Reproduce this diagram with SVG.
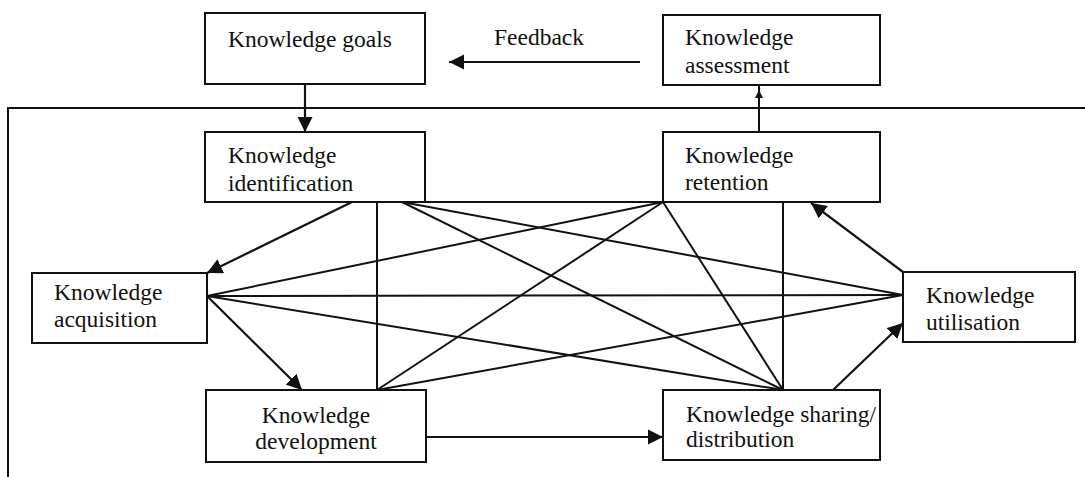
<svg xmlns="http://www.w3.org/2000/svg" width="1085" height="477" viewBox="0 0 1085 477">
  <style>
    .box { fill: #ffffff; stroke: #111111; stroke-width: 2; }
    .lbl { font-family: 'Liberation Serif', 'Times New Roman', 'DejaVu Serif', serif; font-size: 23.5px; fill: #111111; }
    .ln { stroke: #111111; stroke-width: 2; fill: none; }
    .arr { stroke: #111111; stroke-width: 2.2; fill: none; marker-end: url(#head); }
    .frame { stroke: #111111; stroke-width: 2; fill: none; }
  </style>
  <defs>
    <marker id="head" viewBox="0 0 10 10" refX="10" refY="5" markerWidth="7" markerHeight="7" markerUnits="strokeWidth" orient="auto">
      <path d="M0,0 L10,5 L0,10 z" fill="#111111"/>
    </marker>
    <marker id="smallhead" viewBox="0 0 10 10" refX="10" refY="5" markerWidth="4" markerHeight="4" markerUnits="strokeWidth" orient="auto">
      <path d="M0,0 L10,5 L0,10 z" fill="#111111"/>
    </marker>
  </defs>
  <rect width="1085" height="477" fill="#ffffff"/>

  <!-- open frame around the cycle -->
  <path class="frame" d="M1085,108 H8 V477"/>

  <g id="connectors">
    <!-- mesh between the six cycle stages -->
    <line class="ln" x1="377" y1="202" x2="377" y2="390"/>
    <line class="ln" x1="783" y1="202" x2="783" y2="390"/>
    <line class="ln" x1="425" y1="202" x2="663" y2="202"/>
    <line class="ln" x1="402" y1="202" x2="903" y2="295"/>
    <line class="ln" x1="402" y1="202" x2="783" y2="390"/>
    <line class="ln" x1="663" y1="202" x2="207" y2="296"/>
    <line class="ln" x1="663" y1="202" x2="377" y2="390"/>
    <line class="ln" x1="663" y1="202" x2="783" y2="390"/>
    <line class="ln" x1="207" y1="296" x2="903" y2="295"/>
    <line class="ln" x1="207" y1="296" x2="783" y2="390"/>
    <line class="ln" x1="377" y1="390" x2="903" y2="295"/>

    <!-- directed flow -->
    <line class="arr" x1="305" y1="84" x2="305" y2="132"/>
    <line class="arr" x1="640" y1="62" x2="449" y2="62"/>
    <line class="ln" x1="759" y1="132" x2="759" y2="86"/>
    <line class="ln" x1="759" y1="102" x2="759" y2="90" marker-end="url(#smallhead)"/>
    <line class="arr" x1="352" y1="202" x2="207" y2="273"/>
    <line class="arr" x1="207" y1="296" x2="302" y2="390"/>
    <line class="arr" x1="426" y1="437" x2="663" y2="437"/>
    <line class="arr" x1="833" y1="390" x2="903" y2="323"/>
    <line class="arr" x1="903" y1="272" x2="811" y2="203"/>
  </g>

  <text class="lbl" x="494" y="45">Feedback</text>

  <g id="goals">
    <rect class="box" x="205" y="13" width="220" height="71"/>
    <text class="lbl" x="228" y="47">Knowledge goals</text>
  </g>
  <g id="assessment">
    <rect class="box" x="663" y="15" width="217" height="70"/>
    <text class="lbl" x="685" y="45">Knowledge</text>
    <text class="lbl" x="685" y="73">assessment</text>
  </g>
  <g id="identification">
    <rect class="box" x="205" y="132" width="220" height="70"/>
    <text class="lbl" x="228" y="163">Knowledge</text>
    <text class="lbl" x="228" y="191">identification</text>
  </g>
  <g id="retention">
    <rect class="box" x="663" y="132" width="217" height="70"/>
    <text class="lbl" x="685" y="163">Knowledge</text>
    <text class="lbl" x="685" y="190">retention</text>
  </g>
  <g id="acquisition">
    <rect class="box" x="32" y="273" width="175" height="70"/>
    <text class="lbl" x="54" y="300">Knowledge</text>
    <text class="lbl" x="54" y="327">acquisition</text>
  </g>
  <g id="utilisation">
    <rect class="box" x="903" y="272" width="172" height="70"/>
    <text class="lbl" x="926" y="303">Knowledge</text>
    <text class="lbl" x="926" y="330">utilisation</text>
  </g>
  <g id="development">
    <rect class="box" x="206" y="390" width="220" height="72"/>
    <text class="lbl" x="316" y="423" text-anchor="middle">Knowledge</text>
    <text class="lbl" x="316" y="449" text-anchor="middle">development</text>
  </g>
  <g id="sharing">
    <rect class="box" x="663" y="390" width="217" height="70"/>
    <text class="lbl" x="686" y="422">Knowledge sharing/</text>
    <text class="lbl" x="686" y="447">distribution</text>
  </g>
</svg>
